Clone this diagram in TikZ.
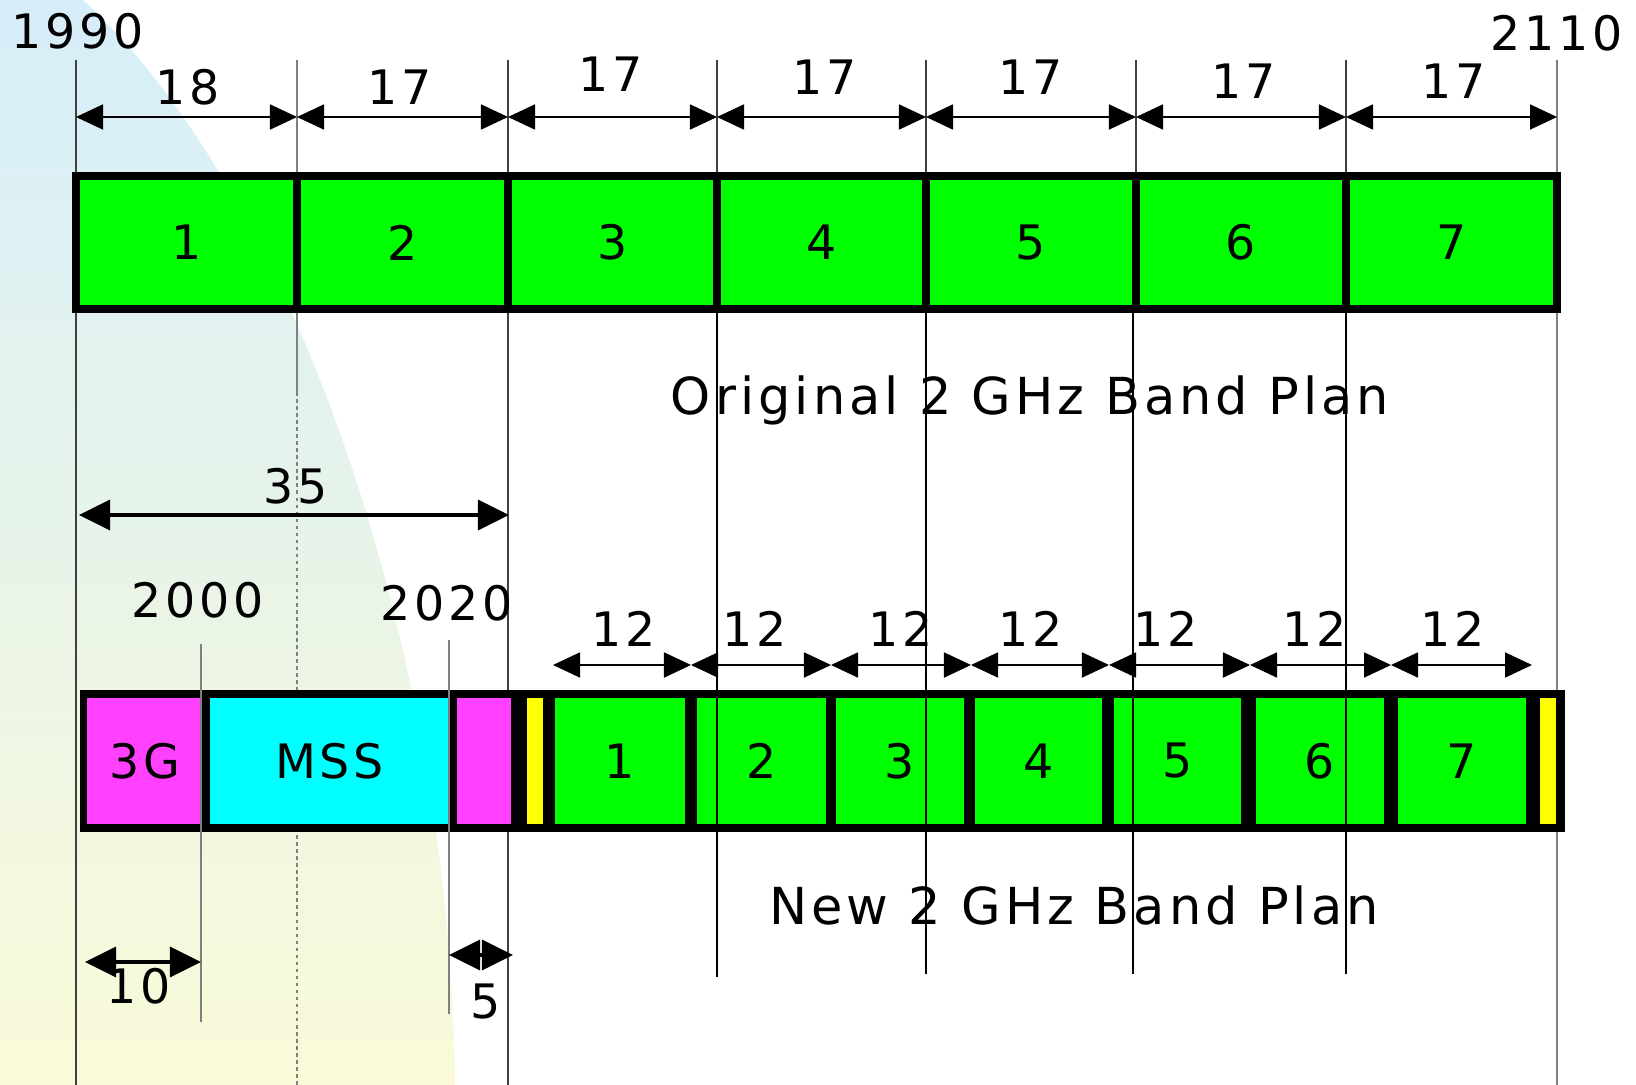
\documentclass[tikz,border=0pt]{standalone}
\usepackage{fontspec}
\setmainfont[LetterSpace=8]{DejaVu Sans}
\usetikzlibrary{arrows.meta}
\definecolor{chgreen}{RGB}{0,255,0}
\definecolor{chmag}{RGB}{255,64,255}
\definecolor{chcyan}{RGB}{0,255,255}
\definecolor{chyellow}{RGB}{255,255,0}
\definecolor{bgblue}{RGB}{214,238,250}
\definecolor{bgyellow}{RGB}{250,250,216}

\begin{document}
\begin{tikzpicture}[
  x=0.01cm, y=-0.01cm,
  num/.style={font=\fontsize{13.5}{16}\selectfont, inner sep=0pt},
  title/.style={font=\fontsize{14.5}{17}\selectfont, inner sep=0pt, anchor=base},
  oldch/.style={draw, line width=2.4pt, fill=chgreen, minimum height=1.33cm, inner sep=0pt, font=\fontsize{13.5}{16}\selectfont},
  newch/.style={minimum height=1.26cm, inner sep=0pt, font=\fontsize{13.5}{16}\selectfont},
  tick/.style={line width=0.4pt, black!75},
  bar/.style={line width=0.7pt},
  dim/.style={{Triangle[length=2.7mm,width=2.5mm]}-{Triangle[length=2.7mm,width=2.5mm]}, line width=0.5pt},
  bigdim/.style={{Triangle[length=3.1mm,width=3mm]}-{Triangle[length=3.1mm,width=3mm]}, line width=1pt},
]
\useasboundingbox (0,0) rectangle (1636,1085);

% Background
\shade[top color=bgblue, bottom color=bgyellow] (0,0) -- (83,0) .. controls (290,190) and (450,640) .. (455,1085) -- (0,1085) -- cycle;

% Frequency ticks
\coordinate (bot) at (0,1085);
\foreach \x [count=\i from 0] in {76,297,508,717,926,1136,1346,1557} {
  \coordinate (t\i) at (\x,60);
  \coordinate (a\i) at (\x,117);
}
\coordinate (v1dot) at (297,392);
\draw[tick] (t0) -- (t0 |- bot);
\draw[tick, gray] (t1) -- (v1dot);
\draw[tick, gray, dash pattern=on 1pt off 1pt] (v1dot) -- (v1dot |- bot);
\draw[tick] (t2) -- (t2 |- bot);
\draw[tick, gray] (t7) -- (t7 |- bot);
\foreach \i in {3,4,5,6}
  \draw[tick] (t\i) -- (t\i |- 0,176);

% Original band plan
\node[oldch, minimum width=2.21cm] (o1) at (186.5,242.5) {1};
\node[oldch, minimum width=2.11cm] (o2) at (402.5,242.5) {2};
\node[oldch, minimum width=2.09cm] (o3) at (612.5,242.5) {3};
\node[oldch, minimum width=2.09cm] (o4) at (821.5,242.5) {4};
\node[oldch, minimum width=2.10cm] (o5) at (1031,242.5) {5};
\node[oldch, minimum width=2.10cm] (o6) at (1241,242.5) {6};
\node[oldch, minimum width=2.11cm] (o7) at (1451.5,242.5) {7};

% New band plan
\node[fill=black, minimum width=14.85cm, minimum height=1.42cm, inner sep=0pt] (newband) at (822.5,761) {};
\node[newch, fill=chmag, minimum width=1.15cm] (g3g) at (144.5,761) {3G};
\node[newch, fill=chcyan, minimum width=2.39cm] (mss) at (329.5,761) {MSS};
\node[newch, fill=chmag, minimum width=0.54cm] (mag) at (484,761) {};
\node[newch, fill=chyellow, minimum width=0.16cm] (gleft) at (535,761) {};
\node[newch, fill=chgreen, minimum width=1.30cm] (n1) at (620,761) {1};
\node[newch, fill=chgreen, minimum width=1.29cm] (n2) at (761.5,761) {2};
\node[newch, fill=chgreen, minimum width=1.28cm] (n3) at (900,761) {3};
\node[newch, fill=chgreen, minimum width=1.27cm] (n4) at (1038.5,761) {4};
\node[newch, fill=chgreen, minimum width=1.27cm] (n5) at (1177.5,761) {5};
\node[newch, fill=chgreen, minimum width=1.28cm] (n6) at (1320,761) {6};
\node[newch, fill=chgreen, minimum width=1.28cm] (n7) at (1462,761) {7};
\node[newch, fill=chyellow, minimum width=0.16cm] (gright) at (1548,761) {};

% Channel edges carried down
\foreach \i/\x/\y in {3/717/977, 4/926/974, 5/1133/974, 6/1346/974} {
  \coordinate (u\i) at (\x,309);
  \coordinate (l\i) at (\x,\y);
  \draw[bar] (u\i) -- (l\i);
}
\coordinate (s1a) at (201,644);
\coordinate (s1b) at (201,1022);
\coordinate (s2a) at (449,640);
\coordinate (s2b) at (449,1014);
\draw[tick, gray] (s1a) -- (s1b);
\draw[tick, gray] (s2a) -- (s2b);

% Dimensions, original plan
\draw[dim] (a0) -- (a1);
\draw[dim] (a1) -- (a2);
\draw[dim] (a2) -- (a3);
\draw[dim] (a3) -- (a4);
\draw[dim] (a4) -- (a5);
\draw[dim] (a5) -- (a6);
\draw[dim] (a6) -- (a7);
\node[num] (y1990) at (78,31) {1990};
\node[num] (y2110) at (1557,33) {2110};
\node[num] (w1) at (188,87) {18};
\node[num] (w2) at (400,87) {17};
\node[num] (w3) at (611,74) {17};
\node[num] (w4) at (825,77) {17};
\node[num] (w5) at (1031,77) {17};
\node[num] (w6) at (1244,81) {17};
\node[num] (w7) at (1454,81) {17};
\node[title] (oldplan) at (1030,414) {Original 2 GHz Band Plan};

% Dimensions, new plan
\coordinate (d0) at (79,515);
\coordinate (d1) at (509,515);
\draw[bigdim] (d0) -- (d1);
\node[num] (w35) at (296,486) {35};
\node[num] (y2000) at (198,600) {2000};
\node[num] (y2020) at (447,603) {2020};
\foreach \x [count=\i from 0] in {553,691,831,971,1109,1250,1391,1532}
  \coordinate (c\i) at (\x,665);
\draw[dim] (c0) -- (c1);
\draw[dim] (c1) -- (c2);
\draw[dim] (c2) -- (c3);
\draw[dim] (c3) -- (c4);
\draw[dim] (c4) -- (c5);
\draw[dim] (c5) -- (c6);
\draw[dim] (c6) -- (c7);
\node[num] (m1) at (624,629) {12};
\node[num] (m2) at (755,629) {12};
\node[num] (m3) at (901,629) {12};
\node[num] (m4) at (1031,629) {12};
\node[num] (m5) at (1166,629) {12};
\node[num] (m6) at (1315,629) {12};
\node[num] (m7) at (1453,629) {12};
\node[title] (newplan) at (1074,924) {New 2 GHz Band Plan};

\coordinate (e0) at (85,962);
\coordinate (e1) at (201,962);
\draw[bigdim] (e0) -- (e1);
\node[num] (w10) at (139,986) {10};
\coordinate (f0) at (449,955);
\coordinate (f1) at (513,955);
\draw[bigdim] (f0) -- (f1);
\node[num] (w5b) at (486,1002) {5};
\end{tikzpicture}
\end{document}
